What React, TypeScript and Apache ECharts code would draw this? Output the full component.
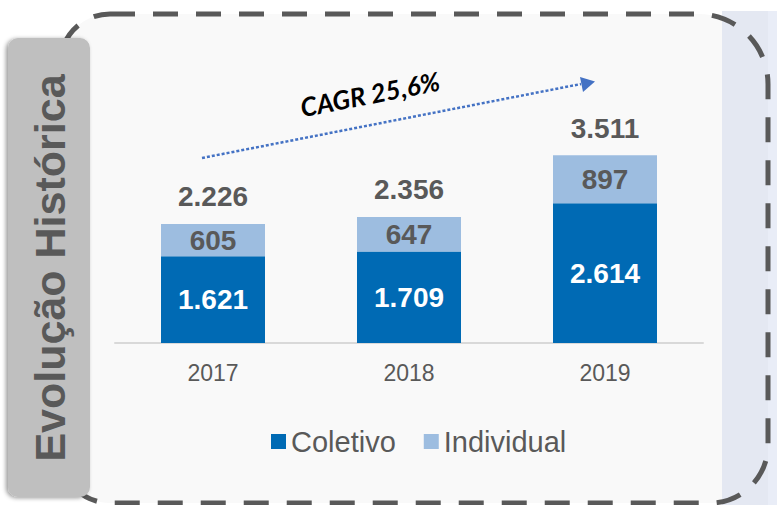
import React, { useEffect, useRef } from "react";
import * as echarts from "echarts";

const categories = ["2017", "2018", "2019"];
const coletivo = [1621, 1709, 2614];
const individual = [605, 647, 897];
const totals = [2226, 2356, 3511];
const seriesNames = ["Coletivo", "Individual"];
const cagrText = "CAGR 25,6%";
const sideTitle = "Evolução Histórica";

const fmt = (n: number) => String(n).replace(/\B(?=(\d{3})+(?!\d))/g, ".");

const FONT = "'Liberation Sans', Arial, sans-serif";
const GRAY = "#595959";

export default function App() {
  const ref = useRef<HTMLDivElement>(null);
  useEffect(() => {
    if (!ref.current) return;
    const chart = echarts.init(ref.current, undefined, { renderer: "svg" });
    chart.setOption({
      animation: false,
      backgroundColor: "#ffffff",
      textStyle: { fontFamily: FONT },
      graphic: [
        {
          type: "rect",
          shape: { x: 60, y: 14, width: 708, height: 489, r: [50, 70, 58, 50] },
          style: { fill: "#f9f9f9" },
          silent: true,
        },
        {
          type: "rect",
          shape: { x: 722, y: 11, width: 46, height: 494 },
          style: { fill: "#e4e8f2" },
          silent: true,
        },
        {
          type: "rect",
          shape: { x: 768, y: 11, width: 9, height: 494 },
          style: { fill: "#e9edf7" },
          silent: true,
        },
        {
          type: "rect",
          shape: { x: 60, y: 14, width: 708, height: 489, r: [50, 70, 58, 50] },
          style: { fill: "none", stroke: "#595959", lineWidth: 5, lineDash: [25, 18] },
          silent: true,
        },
        {
          type: "rect",
          shape: { x: 8, y: 38, width: 82, height: 459, r: 10 },
          style: {
            fill: "#bfbfbf",
            shadowColor: "rgba(0,0,0,0.4)",
            shadowBlur: 4,
            shadowOffsetX: -2,
            shadowOffsetY: 1,
          },
          silent: true,
        },
        {
          type: "text",
          x: 50,
          y: 268,
          rotation: Math.PI / 2,
          style: {
            text: sideTitle,
            fill: GRAY,
            font: `bold 43px ${FONT}`,
            textAlign: "center",
            textVerticalAlign: "middle",
          },
          silent: true,
        },
        {
          type: "line",
          shape: { x1: 202, y1: 158, x2: 581, y2: 84 },
          style: { stroke: "#4472c4", lineWidth: 2.5, lineDash: [3, 2] },
          silent: true,
        },
        {
          type: "polygon",
          shape: { points: [[580, 77], [583, 92], [595, 81.5]] },
          style: { fill: "#4472c4" },
          silent: true,
        },
        {
          type: "text",
          x: 370,
          y: 94,
          rotation: (11 * Math.PI) / 180,
          style: {
            text: cagrText,
            fill: "#000000",
            font: `italic bold 26px Lato, 'Open Sans', sans-serif`,
            textAlign: "center",
            textVerticalAlign: "middle",
          },
          silent: true,
        },
      ],
      legend: {
        data: seriesNames,
        left: 266,
        top: 422,
        icon: "rect",
        itemWidth: 15,
        itemHeight: 15,
        itemGap: 28,
        textStyle: { fontSize: 29, color: GRAY, fontFamily: FONT },
      },
      grid: { left: 115, right: 74, top: 129, bottom: 162, containLabel: false },
      xAxis: {
        type: "category",
        data: categories,
        axisLine: { lineStyle: { color: "#d9d9d9", width: 2 } },
        axisTick: { show: false },
        axisLabel: { fontSize: 23, color: GRAY, margin: 18, fontFamily: FONT },
      },
      yAxis: { type: "value", min: 0, max: 4000, show: false, splitLine: { show: false } },
      series: [
        {
          name: seriesNames[0],
          type: "bar",
          stack: "a",
          barWidth: 104,
          data: coletivo,
          itemStyle: { color: "#006ab4" },
          label: {
            show: true,
            position: "inside",
            color: "#ffffff",
            fontSize: 28,
            fontWeight: "bold",
            fontFamily: FONT,
            formatter: (p: any) => fmt(p.value),
          },
        },
        {
          name: seriesNames[1],
          type: "bar",
          stack: "a",
          barWidth: 104,
          data: individual,
          itemStyle: { color: "#9dbde0" },
          label: {
            show: true,
            position: "inside",
            color: GRAY,
            fontSize: 28,
            fontWeight: "bold",
            fontFamily: FONT,
            formatter: (p: any) => fmt(p.value),
          },
        },
        {
          name: "Total",
          type: "bar",
          stack: "a",
          barWidth: 104,
          data: totals.map(() => 0),
          itemStyle: { color: "transparent" },
          label: {
            show: true,
            position: "top",
            distance: 13,
            color: GRAY,
            fontSize: 28,
            fontWeight: "bold",
            fontFamily: FONT,
            formatter: (p: any) => fmt(totals[p.dataIndex]),
          },
        },
      ],
    });
    return () => chart.dispose();
  }, []);
  return (
    <div
      ref={ref}
      style={{ position: "fixed", left: 0, top: 0, width: 777, height: 505 }}
    />
  );
}
